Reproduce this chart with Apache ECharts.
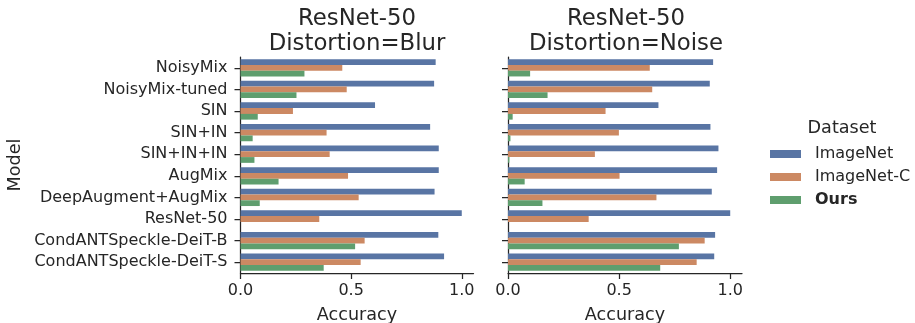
<!DOCTYPE html>
<html><head><meta charset="utf-8">
<script src="https://cdn.jsdelivr.net/npm/echarts@6/dist/echarts.min.js"></script>
<style>html,body{margin:0;padding:0;background:#fff}#c{width:915px;height:323px}</style>
</head><body><div id="c"></div>
<script>
const models = ["NoisyMix","NoisyMix-tuned","SIN","SIN+IN","SIN+IN+IN","AugMix","DeepAugment+AugMix","ResNet-50","CondANTSpeckle-DeiT-B","CondANTSpeckle-DeiT-S"];
const datasets = ["ImageNet","ImageNet-C","Ours"];
const panelTitles = ["ResNet-50\nDistortion=Blur","ResNet-50\nDistortion=Noise"];
const xTicks = [0, 0.5, 1.0];
const blurImageNet  = [0.882,0.875,0.608,0.857,0.896,0.896,0.877,1.0,0.894,0.920];
const blurImageNetC = [0.460,0.480,0.237,0.389,0.403,0.486,0.534,0.356,0.561,0.543];
const blurOurs      = [0.289,0.253,0.078,0.055,0.063,0.172,0.087,0,0.518,0.376];
const noiseImageNet  = [0.923,0.908,0.677,0.911,0.947,0.941,0.917,1.0,0.932,0.928];
const noiseImageNetC = [0.638,0.649,0.439,0.499,0.391,0.502,0.668,0.363,0.885,0.849];
const noiseOurs      = [0.0995,0.178,0.021,0.011,0.006,0.075,0.155,0,0.769,0.685];

const colors = ["#5975a4","#cc8963","#5f9e6e"];
const ink = "#262626";
const font = "DejaVu Sans";

const chart = echarts.init(document.getElementById('c'), null, {renderer:'canvas'});
function xAxis(i){
  return {gridIndex:i, type:'value', min:0, max:1.053,
    name:'Accuracy', nameLocation:'middle', nameGap:33,
    nameTextStyle:{fontFamily:font, fontSize:17.6, color:ink},
    axisLine:{show:true, lineStyle:{color:ink, width:1.25}},
    axisTick:{show:true, length:6, lineStyle:{color:ink, width:1.25}, customValues:xTicks},
    axisLabel:{fontFamily:font, fontSize:16, color:ink, margin:10, customValues:xTicks,
      formatter:v=>v.toFixed(1)},
    splitLine:{show:false}};
}
function yAxis(i){
  return {gridIndex:i, type:'category', data:models, inverse:true,
    name: i===0 ? 'Model' : '', nameLocation:'middle', nameRotate:90, nameGap:216,
    nameTextStyle:{fontFamily:font, fontSize:17.6, color:ink},
    axisLine:{show:true, lineStyle:{color:ink, width:1.25}},
    axisTick:{show:true, length:6, interval:0, alignWithLabel:true, lineStyle:{color:ink, width:1.25}},
    axisLabel:{show:i===0, interval:0, fontFamily:font, fontSize:16, color:ink, margin:13},
    splitLine:{show:false}};
}
const panelData = [[blurImageNet,blurImageNetC,blurOurs],[noiseImageNet,noiseImageNetC,noiseOurs]];
const series = [];
panelData.forEach((arrs,p)=>{
  arrs.forEach((d,k)=>{
    series.push({type:'bar', name:datasets[k], xAxisIndex:p, yAxisIndex:p, data:d,
      barGap:'0%', barCategoryGap:'20%', itemStyle:{color:colors[k]}, emphasis:{disabled:true}, silent:true});
  });
});
chart.setOption({
  animation:false,
  backgroundColor:'#fff',
  title:[
    {text:panelTitles[0], left:352, top:1, textAlign:'center',
     textStyle:{fontFamily:font, fontSize:22.8, fontWeight:'normal', color:ink, lineHeight:25.5}},
    {text:panelTitles[1], left:621, top:1, textAlign:'center',
     textStyle:{fontFamily:font, fontSize:22.8, fontWeight:'normal', color:ink, lineHeight:25.5}},
    {text:'Dataset', left:837, top:114, textAlign:'center',
     textStyle:{fontFamily:font, fontSize:17.6, fontWeight:'normal', color:ink}}
  ],
  legend:{orient:'vertical', left:765, top:141, itemWidth:31, itemHeight:8, itemGap:7,
    icon:'rect', data:datasets, selectedMode:false,
    textStyle:{fontFamily:font, fontSize:16, color:ink, lineHeight:16, padding:[0,0,0,9],
      rich:{b:{fontFamily:font, fontSize:16, fontWeight:'bold', color:ink}}},
    formatter:n=> n==='Ours' ? '{b|Ours}' : n},
  grid:[
    {left:240.5, width:233, top:57, height:216, containLabel:false, outerBoundsMode:'none'},
    {left:508, width:234, top:57, height:216, containLabel:false, outerBoundsMode:'none'}
  ],
  xAxis:[xAxis(0), xAxis(1)],
  yAxis:[yAxis(0), yAxis(1)],
  series:series
});
</script></body></html>
